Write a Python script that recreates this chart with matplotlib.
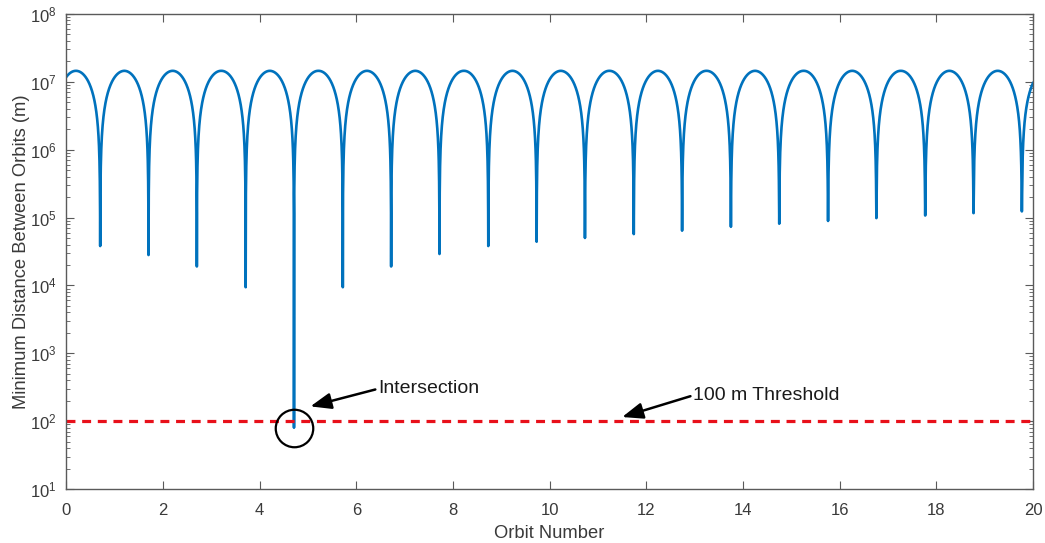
#!/usr/bin/env python3
"""Minimum distance between two orbits versus orbit number (log scale)."""

import matplotlib

matplotlib.use("Agg")
import matplotlib.pyplot as plt
import numpy as np

# values
dip_orbits = [0.70, 1.70, 2.70, 3.71, 4.71, 5.72, 6.72, 7.72, 8.73, 9.73,
              10.73, 11.74, 12.74, 13.75, 14.75, 15.76, 16.76, 17.77, 18.77, 19.77]
dip_minima = [3.8e4, 2.8e4, 1.9e4, 9.4e3, 80.0, 9.4e3, 1.9e4, 2.9e4, 3.8e4, 4.4e4,
              5.0e4, 5.7e4, 6.4e4, 7.3e4, 8.1e4, 8.9e4, 9.8e4, 1.07e5, 1.16e5, 1.23e5]
peak_distance = 1.45e7  # roughly twice the orbit radius
threshold_m = 100.0
intersection_orbit = 4.71
intersection_dist = 80.0

plt.rcParams["font.family"] = ["Liberation Sans", "DejaVu Sans"]
plt.rcParams["mathtext.fontset"] = "custom"
plt.rcParams["mathtext.rm"] = "Liberation Sans"
plt.rcParams["mathtext.it"] = "Liberation Sans:italic"

# separation curve: |sin| arches of the phase drift between successive dips
dips = np.array(dip_orbits)
mins = np.array(dip_minima)
period = (dips[-1] - dips[0]) / (len(dips) - 1)
x = np.union1d(np.linspace(0, 20, 8001), dips)
nearest = np.abs(x[:, None] - dips[None, :]).argmin(axis=1)
phase = np.pi * (x - dips[nearest]) / period
dist = np.sqrt(mins[nearest] ** 2 + (peak_distance * np.sin(phase)) ** 2)

fig = plt.figure(figsize=(10.45, 5.43), dpi=100)
ax = fig.add_axes([0.0635, 0.0994, 0.925, 0.875])

axis_col = "#5a5a5a"
text_col = "#3a3a3a"

ax.plot(x, dist, color="#0072BD", linewidth=1.9)
ax.axhline(threshold_m, color="#e8101a", linewidth=2.3, linestyle=(0, (2.8, 2.1)))
ax.plot([intersection_orbit], [intersection_dist], marker="o", markersize=27,
        markerfacecolor="none", markeredgecolor="black", markeredgewidth=1.6)

ax.set_yscale("log")
ax.set_xlim(0, 20)
ax.set_ylim(1e1, 1e8)
ax.set_xticks(np.arange(0, 21, 2))
ax.set_yticks([10.0 ** k for k in range(1, 9)])

for side in ax.spines.values():
    side.set_color(axis_col)
    side.set_linewidth(1.0)
ax.tick_params(which="both", direction="in", top=True, right=True,
               color=axis_col, labelcolor=text_col, labelsize=12)
ax.tick_params(which="major", length=6, pad=7)
ax.tick_params(which="minor", length=3)
ax.tick_params(axis="x", which="major", pad=10)
ax.tick_params(axis="x", which="minor", bottom=False, top=False)

ax.set_xlabel("Orbit Number", fontsize=13.2, color=text_col, labelpad=5)
ax.set_ylabel("Minimum Distance Between Orbits (m)", fontsize=13.2,
              color=text_col, labelpad=0)

arrow = dict(arrowstyle="-|>,head_length=0.9,head_width=0.35", color="black",
             linewidth=1.8, shrinkA=0, shrinkB=0)
ax.annotate("Intersection", xy=(5.05, 165), xytext=(6.45, 300),
            fontsize=14, color="#1a1a1a", va="center", ha="left",
            arrowprops=dict(arrow, relpos=(0, 0.5)))
ax.annotate("100 m Threshold", xy=(11.5, 115), xytext=(12.97, 240),
            fontsize=14, color="#1a1a1a", va="center", ha="left",
            arrowprops=dict(arrow, relpos=(0, 0.5)))

fig.savefig("out.png", dpi=100)
